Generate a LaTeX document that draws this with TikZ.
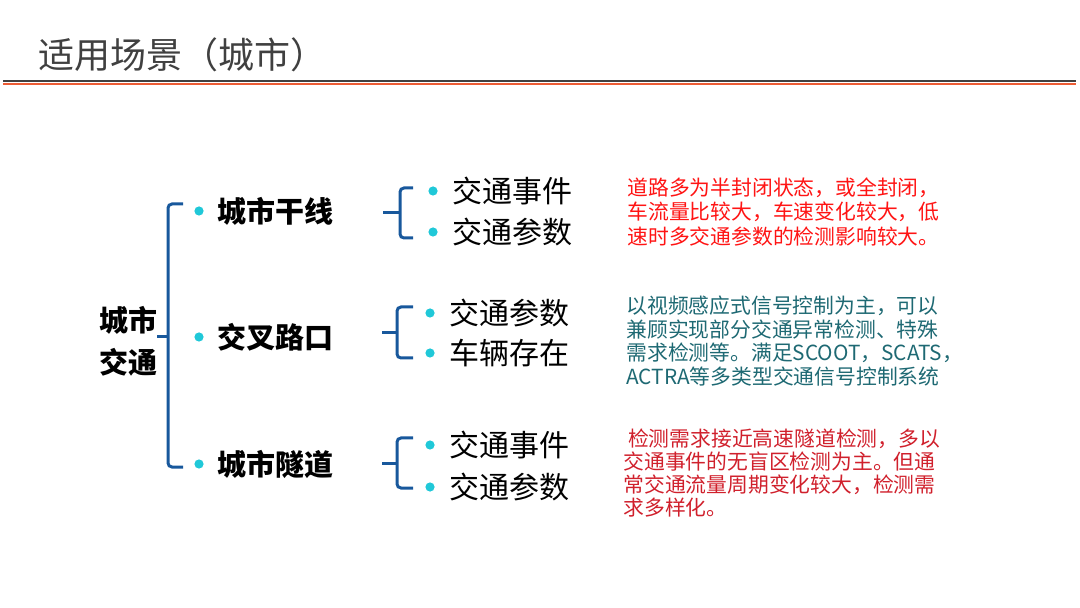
\documentclass[tikz,border=0pt]{standalone}
\usepackage{fontspec}
\setmainfont{Noto Sans CJK SC}
\usetikzlibrary{positioning,calc}

\definecolor{titlegray}{RGB}{64,64,64}
\definecolor{rulered}{RGB}{236,92,52}
\definecolor{bracketblue}{RGB}{24,88,156}
\definecolor{dotcyan}{RGB}{32,200,216}
\definecolor{notered}{RGB}{255,20,20}
\definecolor{noteteal}{RGB}{30,105,115}
\definecolor{notecrimson}{RGB}{208,32,44}

\tikzset{
  brace/.style={bracketblue, line width=1.5pt, rounded corners=2pt},
  bulletdot/.style={circle, fill=dotcyan, inner sep=0pt, minimum size=4.6pt},
  rootlabel/.style={font=\fontsize{14.5}{21}\selectfont\bfseries, align=center, inner sep=0pt},
  mainlabel/.style={font=\fontsize{14.5}{17}\selectfont\bfseries, inner sep=0pt, text height=12.76pt, text depth=1.74pt},
  sublabel/.style={font=\fontsize{15}{17}\selectfont, inner sep=0pt, text height=13.2pt, text depth=1.8pt},
  note/.style={font=\fontsize{10.4}{12}\selectfont, align=left, inner sep=0pt, anchor=north west},
}

\begin{document}
\begin{tikzpicture}[x=0.5pt, y=-0.5pt]
        \useasboundingbox (0,0) rectangle (1080,608);

        % Title and rule
        \node[anchor=west, inner sep=0pt, text height=15.84pt, text depth=2.16pt, titlegray,
              font=\fontsize{18}{22}\selectfont] (title) at (38,55) {适用场景（城市）};
        \draw[titlegray, line width=1pt] (3,81.5) -- (1076,81.5);
        \draw[rulered, line width=0.9pt] (3,84) -- (1076,84);

        % Root
        \node[rootlabel] (root) at (128,341) {城市\\交通};

        % Main bullets and labels
        \node[bulletdot] (d1) at (199,211) {};
        \node[bulletdot] (d2) at (199,337) {};
        \node[bulletdot] (d3) at (199,464) {};
        \node[mainlabel, right=6.5pt of d1] (arterial) {城市干线};
        \node[mainlabel, right=6.5pt of d2] (crossing) {交叉路口};
        \node[mainlabel, right=6.5pt of d3] (tunnel) {城市隧道};

        % Main bracket
        \coordinate (mspine) at (168,337);
        \draw[brace] ($(d1)+(-16,-7)$) -| (mspine) |- ($(d3)+(-16,3)$);
        \draw[brace] (root.east |- mspine) -- (mspine);

        % Arterial group
        \node[bulletdot] (a1) at (433,191) {};
        \node[bulletdot] (a2) at (433,232) {};
        \node[sublabel, right=7pt of a1] (a1t) {交通事件};
        \node[sublabel, right=7pt of a2] (a2t) {交通参数};
        \coordinate (aspine) at (400,213);
        \draw[brace] ($(a1)+(-20,-3)$) -| (aspine) |- ($(a2)+(-20,6)$);
        \draw[brace] ($(aspine)+(-17,0)$) -- (aspine);

        % Crossing group
        \node[bulletdot] (c1) at (430,313) {};
        \node[bulletdot] (c2) at (430,353) {};
        \node[sublabel, right=7pt of c1] (c1t) {交通参数};
        \node[sublabel, right=7pt of c2] (c2t) {车辆存在};
        \coordinate (cspine) at (397,333);
        \draw[brace] ($(c1)+(-17,-6)$) -| (cspine) |- ($(c2)+(-17,5)$);
        \draw[brace] ($(cspine)+(-15,0)$) -- (cspine);

        % Tunnel group
        \node[bulletdot] (t1) at (430,445) {};
        \node[bulletdot] (t2) at (430,487) {};
        \node[sublabel, right=7pt of t1] (t1t) {交通事件};
        \node[sublabel, right=7pt of t2] (t2t) {交通参数};
        \coordinate (tspine) at (397,463);
        \draw[brace] ($(t1)+(-17,-7)$) -| (tspine) |- ($(t2)+(-17,1)$);
        \draw[brace] ($(tspine)+(-15,0)$) -- (tspine);

        % Notes
        \node[note, notered, font=\fontsize{10.4}{12.2}\selectfont] (anote) at (627,177.5)
          {道路多为半封闭状态，或全封闭，\\车流量比较大，车速变化较大，低\\速时多交通参数的检测影响较大。};
        \node[note, noteteal, font=\fontsize{10.4}{11.8}\selectfont] (cnote) at (626,295.5)
          {以视频感应式信号控制为主，可以\\兼顾实现部分交通异常检测、特殊\\需求检测等。满足SCOOT，SCATS，\\ACTRA等多类型交通信号控制系统};
        \node[note, notecrimson, font=\fontsize{10.4}{11.5}\selectfont] (tnote) at (623,428.5)
          {\ 检测需求接近高速隧道检测，多以\\交通事件的无盲区检测为主。但通\\常交通流量周期变化较大，检测需\\求多样化。};
\end{tikzpicture}
\end{document}
